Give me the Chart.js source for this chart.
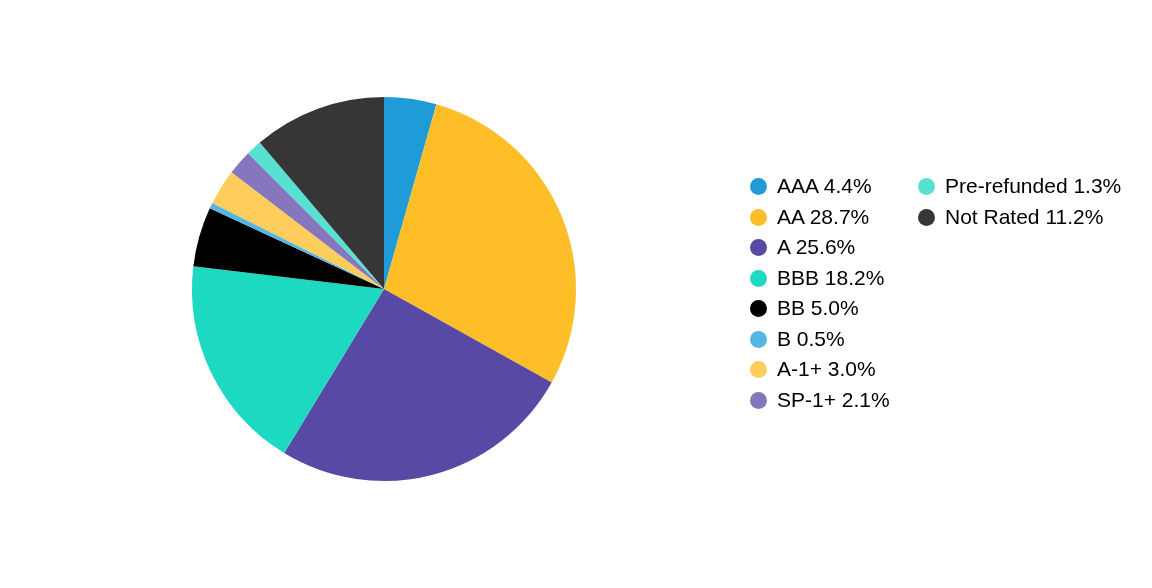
<!DOCTYPE html>
<html>
<head>
<meta charset="utf-8">
<script src="https://cdn.jsdelivr.net/npm/chart.js@4/dist/chart.umd.min.js"></script>
<style>
	html, body { margin: 0; padding: 0; background: #fff; }
	#wrap { position: relative; width: 1152px; height: 588px; }
	#myChart { position: absolute; left: 0; top: 0; }
	#legend { position: absolute; left: 750px; top: 171px; font-family: "Liberation Sans", Arial, sans-serif; font-size: 21px; color: #000; }
	.item { position: absolute; height: 30px; line-height: 30px; white-space: nowrap; }
	.dot { position: absolute; left: 0; top: 7px; width: 17px; height: 17px; border-radius: 50%; }
	.txt { position: absolute; left: 27px; top: 0; }
</style>
</head>
<body>
<div id="wrap">
	<canvas id="myChart" width="1152" height="588"></canvas>
	<div id="legend"></div>
</div>
<script>
const categories = ['AAA', 'AA', 'A', 'BBB', 'BB', 'B', 'A-1+', 'SP-1+', 'Pre-refunded', 'Not Rated'];
const values = [4.4, 28.7, 25.6, 18.2, 5.0, 0.5, 3.0, 2.1, 1.3, 11.2];
const colors = ['#1f9cd8', '#fdbe27', '#5849a5', '#1ed9c2', '#000000', '#55b6e3', '#ffcd5c', '#8676be', '#56e1d1', '#363636'];

const ctx = document.getElementById('myChart');
const chart = new Chart(ctx, {
	type: 'pie',
	data: {
		labels: categories,
		datasets: [{
			data: values,
			backgroundColor: colors,
			borderWidth: 0
		}]
	},
	options: {
		responsive: false,
		animation: false,
		layout: { padding: { left: 192, right: 576, top: 97, bottom: 107 } },
		plugins: {
			legend: { display: false },
			tooltip: { enabled: false }
		}
	}
});

// legend, 8 rows per column
const legend = document.getElementById('legend');
categories.forEach(function(c, i) {
	const col = Math.floor(i / 8), row = i % 8;
	const el = document.createElement('div');
	el.className = 'item';
	el.style.left = (col * 168) + 'px';
	el.style.top = (row * 30.5) + 'px';
	el.innerHTML = '<span class="dot" style="background:' + colors[i] + '"></span><span class="txt"></span>';
	el.querySelector('.txt').textContent = c + ' ' + values[i].toFixed(1) + '%';
	legend.appendChild(el);
});
</script>
</body>
</html>
